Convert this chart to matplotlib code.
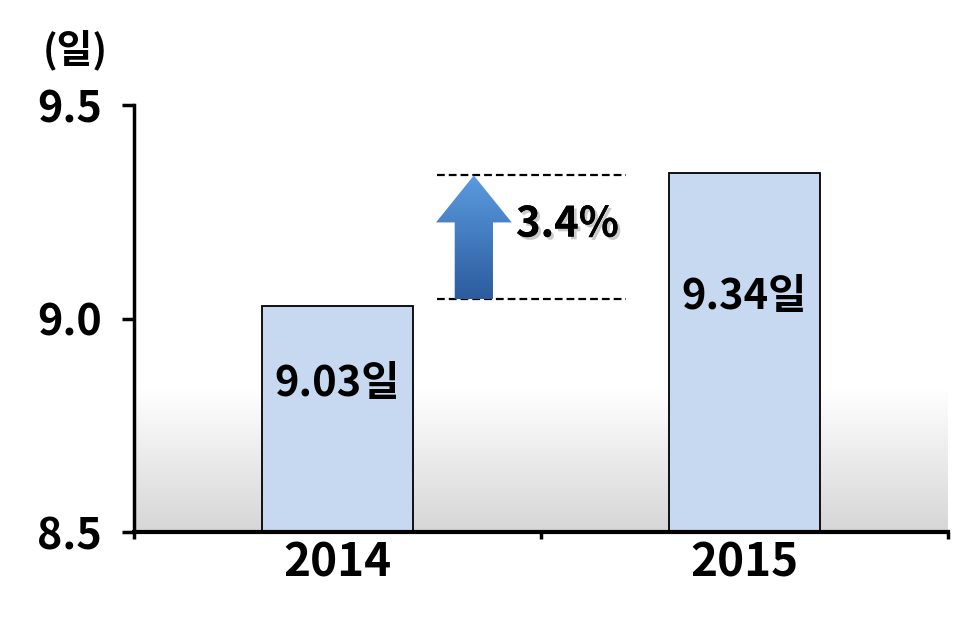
import numpy as np
import matplotlib
matplotlib.use("Agg")
import matplotlib.pyplot as plt
from matplotlib.patches import Polygon
from matplotlib.colors import LinearSegmentedColormap
import matplotlib.patheffects as pe

plt.rcParams['font.family'] = ['Noto Sans CJK KR', 'DejaVu Sans']

categories = ['2014', '2015']
values = [9.03, 9.34]
bar_labels = ['9.03일', '9.34일']
yticks = [8.5, 9.0, 9.5]
ytick_labels = ['8.5', '9.0', '9.5']
growth_label = '3.4%'
unit_label = '(일)'

fig = plt.figure(figsize=(9.64, 6.21), dpi=100)
ax = fig.add_axes([134/964, 1 - 532/621, (948-134)/964, (532-105)/621])

x = np.arange(len(categories))
ax.set_xlim(-0.5, 1.5)
ax.set_ylim(8.5, 9.5)

# gradient background at bottom
grad = np.linspace(0, 1, 256).reshape(-1, 1)
bg_cmap = LinearSegmentedColormap.from_list('bg', ['#d6d6d6', '#ffffff'])
ax.imshow(grad, extent=(-0.5, 1.5, 8.5, 8.835), origin='lower', cmap=bg_cmap,
          aspect='auto', zorder=0)

ax.bar(x, [v - 8.5 for v in values], bottom=8.5, width=0.37, color='#c6d9f1',
       edgecolor='black', linewidth=1.3, zorder=2)

for xi, v, lab in zip(x, values, bar_labels):
    ax.text(xi, 8.5 + 0.655 * (v - 8.5), lab, ha='center', va='center', fontsize=30,
            fontweight='bold', zorder=4)

# dashed reference lines
lo = values[0] + 0.015
hi = values[1] - 0.005
ax.plot([0.245, 0.71], [hi, hi], ls=(0, (3.5, 1.8)), color='black', lw=1.6, zorder=3)
ax.plot([0.245, 0.71], [lo, lo], ls=(0, (3.5, 1.8)), color='black', lw=1.6, zorder=3)

# gradient arrow
cx = 0.335
hw, sw, hh = 0.093, 0.047, 0.11
pts = [(cx - sw, lo), (cx + sw, lo), (cx + sw, hi - hh), (cx + hw, hi - hh),
       (cx, hi), (cx - hw, hi - hh), (cx - sw, hi - hh)]
poly = Polygon(pts, closed=True, facecolor='none', edgecolor='none', zorder=3)
ax.add_patch(poly)
arr_cmap = LinearSegmentedColormap.from_list('arr', ['#2b5c9e', '#5b9be0'])
im = ax.imshow(grad, extent=(cx - hw, cx + hw, lo, hi), origin='lower',
               cmap=arr_cmap, aspect='auto', zorder=3)
im.set_clip_path(poly)

ax.text(0.565, (lo + hi) / 2 + 0.03, growth_label, ha='center', va='center',
        fontsize=30, fontweight='bold', zorder=4,
        path_effects=[pe.withSimplePatchShadow(offset=(2, -2), shadow_rgbFace='#999999', alpha=0.5),
                      pe.Normal()])

# axes styling
for s in ['top', 'right']:
    ax.spines[s].set_visible(False)
ax.spines['left'].set_linewidth(2.5)
ax.spines['bottom'].set_linewidth(3)
ax.spines['left'].set_zorder(5)
ax.spines['bottom'].set_zorder(5)

ax.set_yticks(yticks)
ax.set_yticklabels(ytick_labels, fontsize=31, fontweight='bold')
ax.tick_params(axis='y', length=9, width=2.5, pad=14)

ax.set_xticks([-0.5, 0.5, 1.5], minor=False)
ax.set_xticklabels([])
ax.tick_params(axis='x', length=5, width=2.5, direction='out')
ax.set_xticks(x, minor=True)
ax.set_xticklabels(categories, minor=True, fontsize=33, fontweight='bold')
ax.tick_params(axis='x', which='minor', length=0, pad=6)

fig.text(75/964, 1 - 50/621, unit_label, ha='center', va='center', fontsize=28,
         fontweight='bold')

fig.savefig('out.png', dpi=100)
